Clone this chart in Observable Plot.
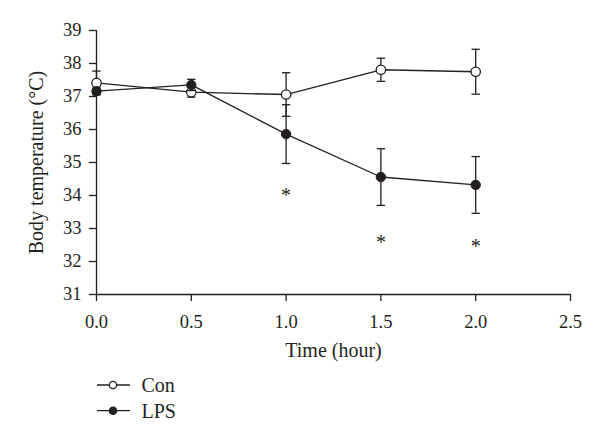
<!DOCTYPE html>
<html>
<head>
<meta charset="utf-8">
<script src="https://cdn.jsdelivr.net/npm/d3@7"></script>
<script src="https://cdn.jsdelivr.net/npm/@observablehq/plot@0.6"></script>
<style>
  html, body { margin: 0; padding: 0; background: white; }
  #chart svg { display: block; }
  #legend { display: block; }
</style>
</head>
<body>
<div id="chart"></div>
<svg id="legend" width="600" height="77" font-family="Liberation Serif" font-size="20" fill="#231f20"></svg>
<script>
const times = [0, 0.5, 1.0, 1.5, 2.0];
const conMean = [37.41, 37.13, 37.06, 37.81, 37.75];
const conErr = [0.36, 0.15, 0.66, 0.35, 0.68];
const lpsMean = [37.16, 37.35, 35.86, 34.56, 34.32];
const lpsErr = [0.10, 0.17, 0.89, 0.86, 0.86];
const starTimes = [1.0, 1.5, 2.0];
const starValues = [34.07, 32.64, 32.54];
const xTicks = [0, 0.5, 1.0, 1.5, 2.0, 2.5];
const yTicks = [31, 32, 33, 34, 35, 36, 37, 38, 39];
const seriesNames = ["Con", "LPS"];

const con = times.map((t, i) => ({t, v: conMean[i], lo: conMean[i] - conErr[i], hi: conMean[i] + conErr[i]}));
const lps = times.map((t, i) => ({t, v: lpsMean[i], lo: lpsMean[i] - lpsErr[i], hi: lpsMean[i] + lpsErr[i]}));
const stars = starTimes.map((t, i) => ({t, v: starValues[i]}));

const hline = {
  draw(ctx, size) {
    const w = Math.sqrt(size / Math.PI);
    ctx.moveTo(-w, 0);
    ctx.lineTo(w, 0);
  }
};

const ink = "#231f20";

function errorMarks(data) {
  return [
    Plot.ruleX(data, {x: "t", y1: "lo", y2: "hi", stroke: ink, strokeWidth: 1.3}),
    Plot.dot(data, {x: "t", y: "hi", symbol: hline, r: 4.2, stroke: ink, strokeWidth: 1.3}),
    Plot.dot(data, {x: "t", y: "lo", symbol: hline, r: 4.2, stroke: ink, strokeWidth: 1.3})
  ];
}

const chart = Plot.plot({
  width: 600,
  height: 365,
  marginLeft: 96,
  marginRight: 30,
  marginTop: 30,
  marginBottom: 71,
  style: {fontFamily: "Liberation Serif", fontSize: "18px", color: ink, background: "white"},
  x: {domain: [0, 2.5]},
  y: {domain: [31, 39]},
  marks: [
    Plot.axisX({ticks: xTicks, tickSize: 7, tickPadding: 13, tickFormat: d3.format(".1f"), fontSize: 18.5,
      strokeWidth: 1.3, label: null}),
    Plot.axisX({ticks: [], tickSize: 0, fontSize: 20,
      label: "Time (hour)", labelAnchor: "center", labelArrow: "none", labelOffset: 62}),
    Plot.axisY({ticks: yTicks, tickSize: 7, tickPadding: 8, fontSize: 18.5, strokeWidth: 1.3, label: null}),
    Plot.axisY({ticks: [], tickSize: 0, fontSize: 20,
      label: "Body temperature (°C)", labelAnchor: "center", labelArrow: "none", labelOffset: 68}),
    Plot.ruleY([31], {stroke: ink, strokeWidth: 1.3}),
    Plot.ruleX([0], {stroke: ink, strokeWidth: 1.3}),
    ...errorMarks(con),
    Plot.line(con, {x: "t", y: "v", stroke: ink, strokeWidth: 1.3}),
    Plot.dot(con, {x: "t", y: "v", r: 4.7, fill: "white", stroke: ink, strokeWidth: 1.3}),
    ...errorMarks(lps),
    Plot.line(lps, {x: "t", y: "v", stroke: ink, strokeWidth: 1.3}),
    Plot.dot(lps, {x: "t", y: "v", r: 4.7, fill: ink, stroke: ink, strokeWidth: 1}),
    Plot.text(stars, {x: "t", y: "v", text: () => "*", fontSize: 20, dy: 2.5, fill: ink})
  ]
});
document.getElementById("chart").appendChild(chart);

// legend
const legend = d3.select("#legend");
const rows = [
  {name: seriesNames[0], fill: "white", y: 20},
  {name: seriesNames[1], fill: ink, y: 45.7}
];
for (const r of rows) {
  legend.append("line").attr("x1", 97).attr("x2", 130).attr("y1", r.y).attr("y2", r.y)
    .attr("stroke", ink).attr("stroke-width", 1.3);
  legend.append("circle").attr("cx", 113).attr("cy", r.y).attr("r", 3.6)
    .attr("fill", r.fill).attr("stroke", ink).attr("stroke-width", 1.3);
  legend.append("text").attr("x", 141.5).attr("y", r.y).attr("dy", "0.35em").text(r.name);
}
</script>
</body>
</html>
